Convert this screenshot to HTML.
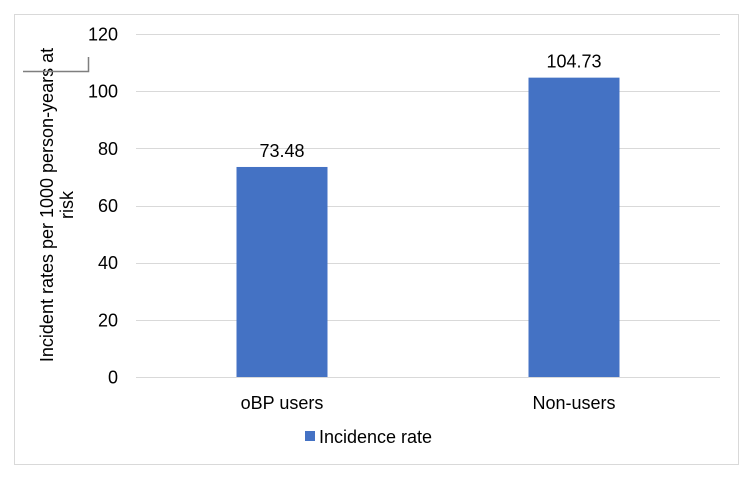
<!DOCTYPE html>
<html><head><meta charset="utf-8"><style>
body{margin:0;background:#fff;}
svg text{font-family:"Liberation Sans",Arial,sans-serif;fill:#000;}
</style></head><body>
<svg width="751" height="475" xmlns="http://www.w3.org/2000/svg">
<rect x="14.5" y="14.5" width="724" height="450" fill="#fff" stroke="#d9d9d9"/>
<g id="grid"></g>
<g id="bars"></g>
<text transform="translate(53,205) rotate(-90)" text-anchor="middle" font-size="18">Incident rates per 1000 person-years at</text>
<text transform="translate(73,205) rotate(-90)" text-anchor="middle" font-size="18">risk</text>
<path d="M23 71.5H88.5V57" fill="none" stroke="#7f7f7f" stroke-width="1.5"/>
<rect x="305" y="431" width="10" height="10" fill="#4472c4"/>
<text x="319" y="443" font-size="18">Incidence rate</text>
</svg>
<script>
const categories=["oBP users","Non-users"];
const values=[73.48,104.73];
const valueLabels=["73.48","104.73"];
const ticks=[0,20,40,60,80,100,120];
const x0=136,x1=720,yZero=377,yTop=34,yMax=120;
const ns="http://www.w3.org/2000/svg";
function y(v){return yZero-(v/yMax)*(yZero-yTop);}
const band=(x1-x0)/categories.length;
function xc(i){return x0+band*(i+0.5);}
const grid=document.getElementById('grid');
ticks.forEach(t=>{
 const l=document.createElementNS(ns,'line');
 
 
 l.setAttribute('x1',x0);l.setAttribute('x2',x1);
 l.setAttribute('y1',Math.round(y(t))+0.5);l.setAttribute('y2',Math.round(y(t))+0.5);
 l.setAttribute('stroke','#d9d9d9');
 grid.appendChild(l);
 const tx=document.createElementNS(ns,'text');
 
 
 tx.setAttribute('x',118);tx.setAttribute('y',y(t)+6.5);
 tx.setAttribute('text-anchor','end');tx.setAttribute('font-size','18');
 tx.textContent=t;grid.appendChild(tx);
});
const bars=document.getElementById('bars');
const bw=91;
categories.forEach((c,i)=>{
 const r=document.createElementNS(ns,'rect');
 
 
 r.setAttribute('x',xc(i)-bw/2);r.setAttribute('y',y(values[i]));
 r.setAttribute('width',bw);r.setAttribute('height',yZero-y(values[i]));
 r.setAttribute('fill','#4472c4');bars.appendChild(r);
 const v=document.createElementNS(ns,'text');
 
 
 v.setAttribute('x',xc(i));v.setAttribute('y',y(values[i])-10);
 v.setAttribute('text-anchor','middle');v.setAttribute('font-size','18');
 v.textContent=valueLabels[i];bars.appendChild(v);
 const cl=document.createElementNS(ns,'text');
 
 
 cl.setAttribute('x',xc(i));cl.setAttribute('y',409);
 cl.setAttribute('text-anchor','middle');cl.setAttribute('font-size','18');
 cl.textContent=c;bars.appendChild(cl);
});
</script>
</body></html>
